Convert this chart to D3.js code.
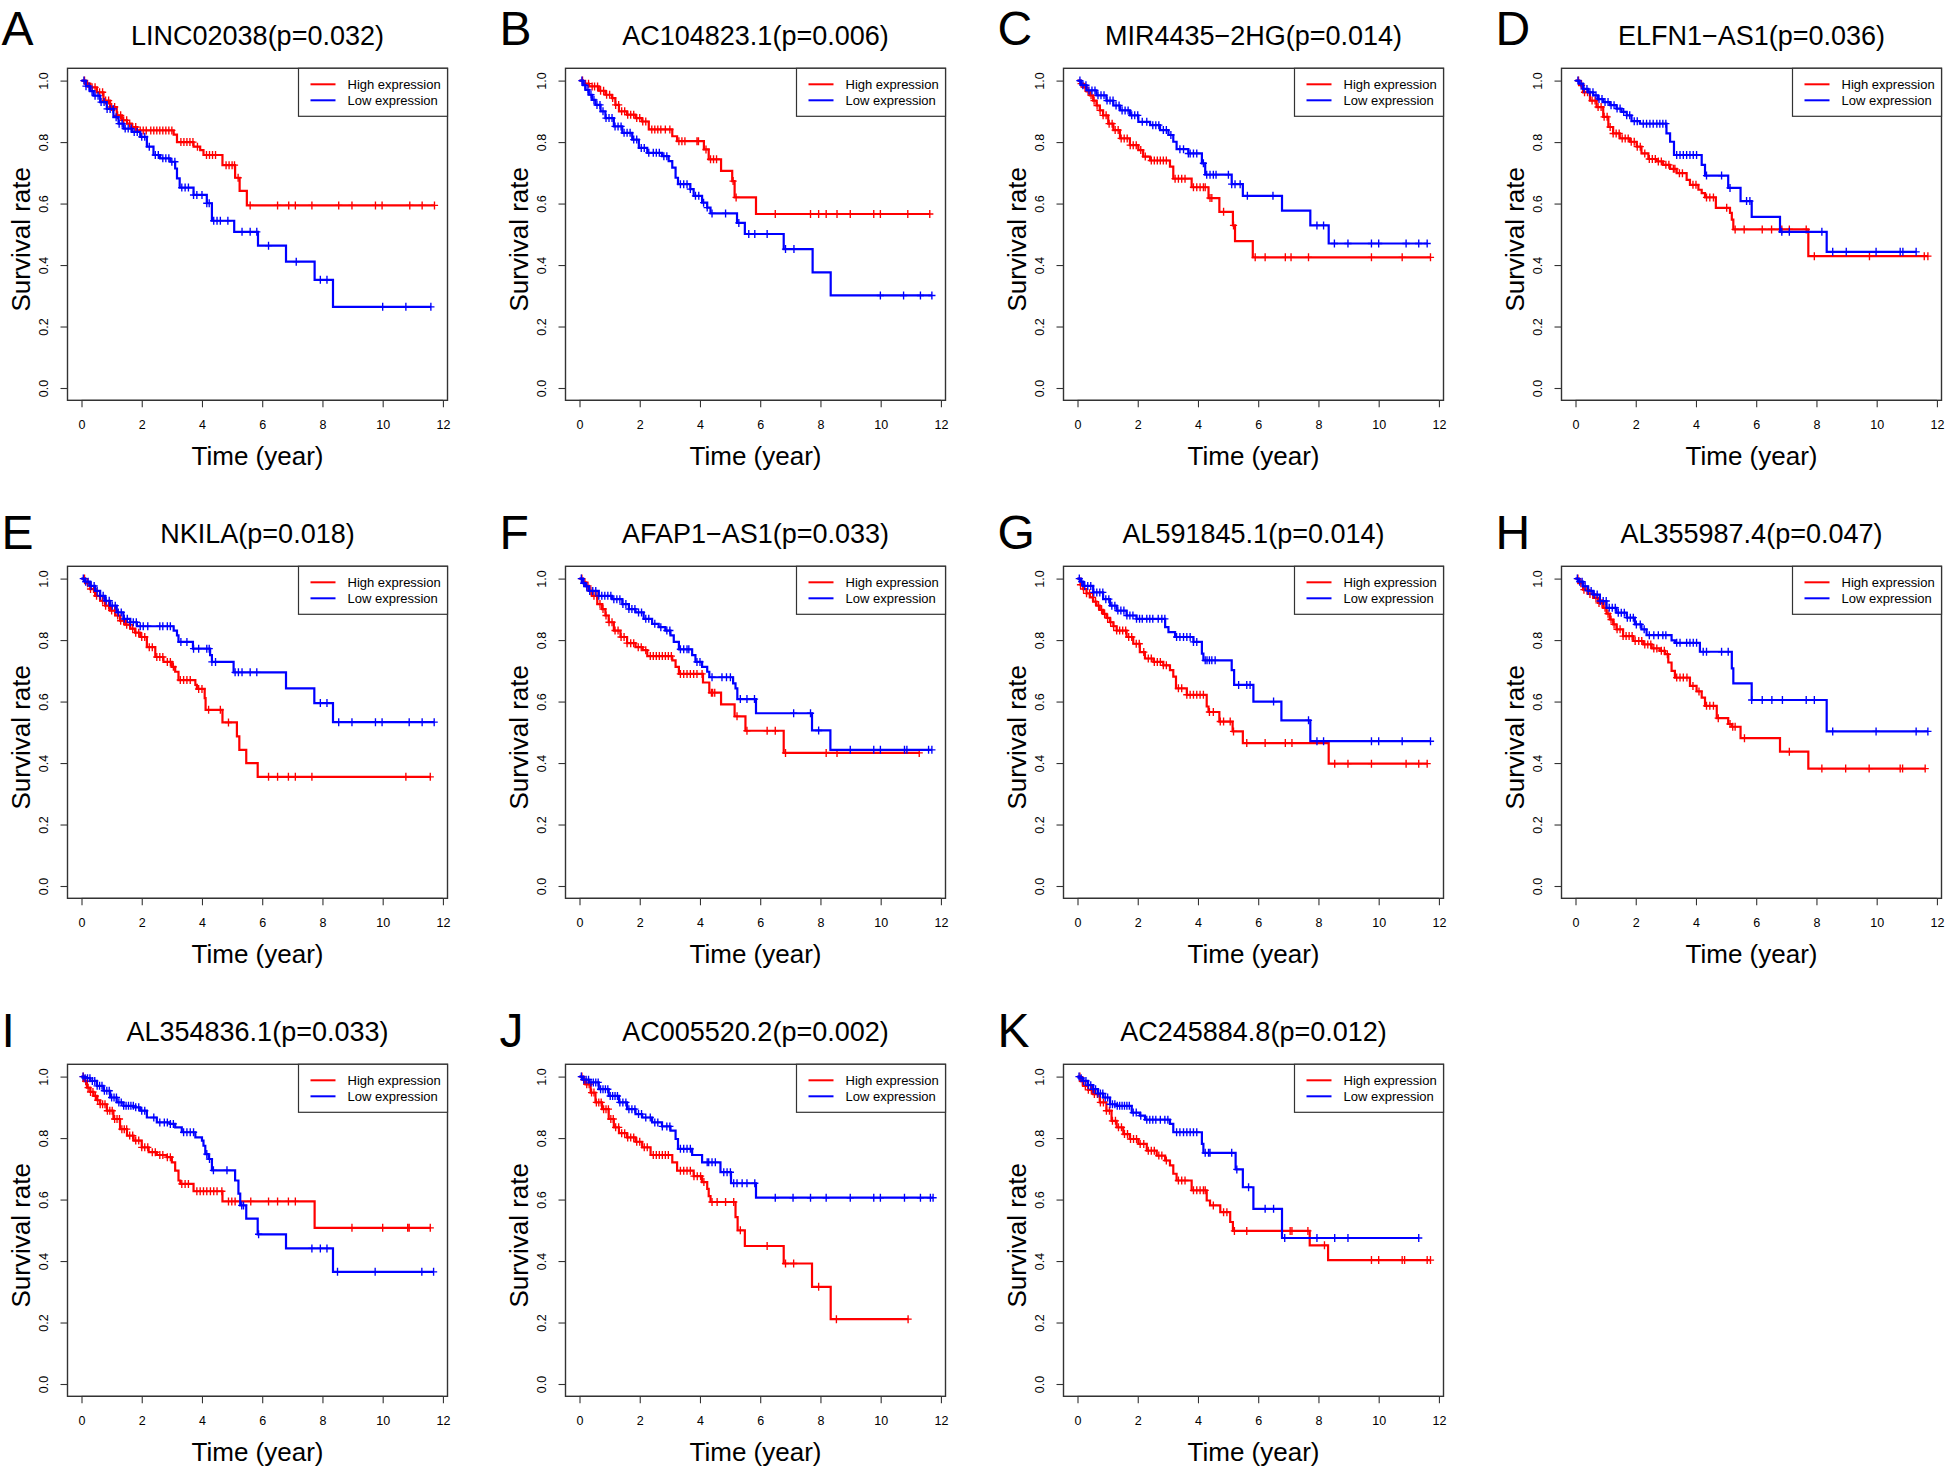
<!DOCTYPE html>
<html><head><meta charset="utf-8">
<script src="https://cdn.jsdelivr.net/npm/d3@7"></script>
<style>
body{margin:0;background:#fff}
svg{display:block}
text{font-family:"Liberation Sans",Arial,Helvetica,sans-serif;fill:#000}
</style>
</head><body>
<svg id="chart" width="1946" height="1466"></svg>
<script>
// ---------------- DATA ----------------
const panelLetters = ["A","B","C","D","E","F","G","H","I","J","K"];
const panelGenes = ["LINC02038","AC104823.1","MIR4435\u22122HG","ELFN1\u2212AS1","NKILA","AFAP1\u2212AS1","AL591845.1","AL355987.4","AL354836.1","AC005520.2","AC245884.8"];
const panelPValues = ["0.032","0.006","0.014","0.036","0.018","0.033","0.014","0.047","0.033","0.002","0.012"];
const xTicks = [0,2,4,6,8,10,12];
const yTicks = [0,0.2,0.4,0.6,0.8,1.0];
const yTickLabels = ["0.0","0.2","0.4","0.6","0.8","1.0"];
const legendLabels = ["High expression","Low expression"];
const seriesColors = ["#FF0000","#0000FF"];
const xAxisTitle = "Time (year)";
const yAxisTitle = "Survival rate";

// steps: [time, survival after drop]; cens: censoring times
const A_high_steps = [[0.12,0.99],[0.29,0.978],[0.51,0.962],[0.73,0.935],[0.95,0.914],[1.17,0.887],[1.34,0.871],[1.51,0.86],[1.67,0.849],[1.84,0.838],[3.06,0.824],[3.17,0.80],[3.72,0.785],[3.94,0.774],[4.05,0.758],[4.68,0.725],[5.1,0.684],[5.25,0.641],[5.49,0.594]];
const A_high_cens = [0.1,0.2,0.35,0.45,0.6,0.7,0.8,0.9,1.0,1.1,1.2,1.3,1.4,1.5,1.6,1.7,1.8,1.95,2.05,2.15,2.3,2.4,2.5,2.6,2.7,2.8,2.9,3.0,3.3,3.4,3.5,3.6,3.7,3.85,4.15,4.25,4.35,4.45,4.8,4.9,5.0,5.08,5.2,5.6,6.51,6.88,7.1,7.65,8.54,8.98,9.76,9.98,10.9,11.31,11.72];
const A_low_steps = [[0.15,0.982],[0.28,0.966],[0.4,0.951],[0.62,0.93],[0.84,0.908],[1.06,0.881],[1.23,0.86],[1.4,0.844],[1.67,0.833],[1.95,0.817],[2.17,0.785],[2.39,0.758],[2.61,0.747],[2.95,0.736],[3.11,0.714],[3.17,0.682],[3.26,0.652],[3.72,0.628],[4.16,0.601],[4.33,0.544],[5.07,0.508],[5.86,0.463],[6.79,0.411],[7.74,0.352],[8.35,0.264]];
const A_low_cens = [0.08,0.15,0.25,0.35,0.45,0.55,0.65,0.75,0.85,0.95,1.05,1.15,1.25,1.35,1.45,1.55,1.65,1.75,1.85,2.0,2.1,2.25,2.45,2.55,2.7,2.8,2.9,3.0,3.1,3.33,3.44,3.55,3.72,3.83,4.0,4.16,4.24,4.39,4.5,4.61,4.86,5.33,5.6,5.82,6.21,7.13,7.93,8.15,10.0,10.77,11.6];

const B_high_steps = [[0.12,0.99],[0.31,0.981],[0.64,0.967],[0.86,0.954],[1.08,0.943],[1.19,0.921],[1.31,0.90],[1.58,0.889],[1.86,0.878],[2.08,0.867],[2.3,0.841],[3.08,0.819],[3.24,0.803],[4.13,0.776],[4.29,0.744],[4.7,0.706],[5.07,0.673],[5.15,0.62],[5.86,0.566]];
const B_high_cens = [0.1,0.2,0.3,0.42,0.5,0.6,0.7,0.8,0.9,1.0,1.1,1.2,1.3,1.4,1.5,1.6,1.7,1.8,1.9,2.0,2.1,2.2,2.4,2.5,2.6,2.7,2.85,3.0,3.3,3.4,3.5,3.9,3.95,4.2,4.35,4.45,4.55,5.1,5.2,6.5,7.67,7.94,8.19,8.55,8.99,9.77,9.99,10.9,11.63];
const B_low_steps = [[0.12,0.985],[0.2,0.97],[0.31,0.954],[0.42,0.937],[0.53,0.921],[0.7,0.9],[0.86,0.878],[1.14,0.851],[1.42,0.83],[1.75,0.808],[1.97,0.781],[2.25,0.765],[2.74,0.754],[2.96,0.738],[3.08,0.717],[3.19,0.684],[3.27,0.663],[3.68,0.647],[3.79,0.625],[4.07,0.603],[4.24,0.587],[4.35,0.568],[5.23,0.537],[5.49,0.501],[6.78,0.452],[7.74,0.376],[8.34,0.301]];
const B_low_cens = [0.08,0.18,0.28,0.38,0.48,0.58,0.68,0.78,0.88,0.98,1.08,1.18,1.28,1.38,1.48,1.58,1.68,1.8,1.9,2.05,2.15,2.3,2.45,2.55,2.65,2.8,2.9,3.35,3.46,3.57,3.68,3.85,3.96,4.12,4.24,4.4,4.85,5.29,5.62,5.82,6.23,6.84,7.12,9.99,10.76,11.32,11.7];

const C_high_steps = [[0.1,0.99],[0.19,0.978],[0.3,0.965],[0.41,0.952],[0.52,0.935],[0.63,0.919],[0.74,0.903],[0.85,0.887],[1.02,0.86],[1.19,0.839],[1.41,0.812],[1.74,0.79],[2.02,0.774],[2.18,0.753],[2.41,0.74],[3.07,0.72],[3.18,0.681],[3.79,0.653],[4.35,0.618],[4.71,0.573],[5.16,0.529],[5.23,0.478],[5.82,0.425]];
const C_high_cens = [0.12,0.25,0.35,0.45,0.55,0.65,0.75,0.85,0.95,1.05,1.15,1.25,1.35,1.45,1.55,1.65,1.75,1.85,1.95,2.1,2.25,2.45,2.55,2.65,2.75,2.85,2.95,3.24,3.35,3.46,3.57,3.85,3.96,4.07,4.18,4.24,4.4,4.46,4.85,5.18,5.9,6.23,6.9,7.09,7.67,9.76,10.78,11.72];
const C_low_steps = [[0.12,0.985],[0.3,0.968],[0.63,0.952],[0.96,0.935],[1.19,0.919],[1.41,0.903],[1.74,0.887],[2.02,0.866],[2.41,0.855],[2.74,0.839],[3.02,0.823],[3.18,0.801],[3.29,0.777],[3.68,0.763],[4.13,0.731],[4.24,0.694],[5.12,0.663],[5.49,0.625],[6.79,0.577],[7.73,0.529],[8.34,0.47]];
const C_low_cens = [0.08,0.18,0.28,0.38,0.48,0.58,0.68,0.78,0.88,0.98,1.08,1.18,1.28,1.38,1.48,1.58,1.68,1.8,1.9,2.0,2.15,2.3,2.5,2.6,2.7,2.85,2.95,3.1,3.4,3.52,3.68,3.74,3.85,3.96,4.18,4.29,4.4,4.51,4.6,5.01,5.12,5.23,5.4,5.64,6.49,7.95,8.17,8.53,8.98,9.76,10.0,10.91,11.33,11.61];

const D_high_steps = [[0.12,0.985],[0.25,0.962],[0.48,0.935],[0.7,0.914],[0.92,0.882],[1.09,0.849],[1.25,0.828],[1.47,0.812],[1.81,0.801],[2.03,0.785],[2.19,0.763],[2.42,0.745],[2.69,0.737],[2.91,0.726],[3.14,0.713],[3.36,0.699],[3.69,0.677],[3.8,0.661],[4.08,0.645],[4.19,0.634],[4.3,0.62],[4.66,0.586],[5.13,0.57],[5.19,0.548],[5.24,0.516],[7.73,0.429]];
const D_high_cens = [0.1,0.2,0.3,0.4,0.55,0.65,0.75,0.85,0.95,1.05,1.15,1.25,1.35,1.45,1.55,1.65,1.75,1.85,1.95,2.05,2.15,2.3,2.45,2.55,2.65,2.75,2.85,3.0,3.1,3.25,3.3,3.45,3.55,3.9,4.0,4.35,4.46,4.58,5.02,5.3,5.6,6.2,6.51,6.85,7.1,7.66,7.93,9.76,11.58,11.7];
const D_low_steps = [[0.12,0.99],[0.25,0.973],[0.42,0.962],[0.59,0.952],[0.75,0.94],[0.92,0.93],[1.15,0.92],[1.36,0.909],[1.53,0.898],[1.7,0.887],[1.86,0.868],[2.14,0.86],[3.02,0.828],[3.14,0.801],[3.27,0.758],[4.19,0.726],[4.3,0.691],[5.07,0.651],[5.48,0.608],[5.85,0.557],[6.79,0.508],[8.34,0.443]];
const D_low_cens = [0.08,0.18,0.28,0.38,0.48,0.58,0.68,0.78,0.88,0.98,1.08,1.18,1.28,1.38,1.48,1.6,1.7,1.8,1.95,2.05,2.25,2.36,2.47,2.58,2.7,2.8,2.9,3.0,3.36,3.47,3.58,3.69,3.8,3.91,4.02,4.35,4.85,5.13,5.68,5.79,6.85,7.1,8.18,8.54,8.99,9.98,10.78,10.87,11.31];

const E_high_steps = [[0.12,0.985],[0.29,0.966],[0.45,0.944],[0.62,0.928],[0.78,0.912],[0.95,0.896],[1.12,0.88],[1.28,0.863],[1.45,0.85],[1.62,0.837],[1.78,0.824],[1.95,0.81],[2.17,0.777],[2.45,0.745],[2.72,0.729],[3.0,0.713],[3.11,0.697],[3.22,0.67],[3.78,0.654],[3.83,0.641],[4.09,0.611],[4.12,0.573],[4.68,0.532],[5.16,0.487],[5.24,0.443],[5.47,0.40],[5.85,0.355]];
const E_high_cens = [0.1,0.2,0.3,0.4,0.5,0.6,0.7,0.8,0.9,1.0,1.1,1.2,1.3,1.4,1.5,1.6,1.7,1.8,1.9,2.0,2.1,2.25,2.35,2.5,2.6,2.7,2.85,2.95,3.05,3.28,3.39,3.5,3.61,3.89,4.0,4.22,4.61,4.88,6.21,6.51,6.87,7.1,7.65,10.77,11.58];
const E_low_steps = [[0.12,0.99],[0.29,0.976],[0.45,0.96],[0.62,0.944],[0.78,0.928],[0.95,0.912],[1.17,0.89],[1.39,0.869],[1.62,0.858],[1.84,0.845],[3.06,0.831],[3.17,0.815],[3.22,0.794],[3.7,0.772],[4.27,0.751],[4.33,0.729],[5.05,0.695],[6.79,0.643],[7.73,0.595],[8.35,0.533]];
const E_low_cens = [0.06,0.14,0.22,0.32,0.42,0.52,0.62,0.72,0.82,0.92,1.02,1.12,1.22,1.32,1.42,1.52,1.62,1.72,1.82,1.95,2.05,2.2,2.6,2.7,2.85,2.95,3.3,3.5,3.72,3.89,4.16,4.24,4.33,4.45,5.1,5.21,5.33,5.6,5.82,7.93,8.15,8.54,8.98,9.76,9.98,10.88,11.31,11.71];

const F_high_steps = [[0.1,0.988],[0.2,0.976],[0.31,0.96],[0.42,0.944],[0.59,0.917],[0.75,0.901],[0.86,0.88],[0.97,0.858],[1.14,0.831],[1.36,0.81],[1.58,0.79],[1.86,0.777],[2.1,0.767],[2.25,0.748],[3.08,0.734],[3.19,0.713],[3.3,0.69],[4.1,0.662],[4.31,0.629],[4.7,0.591],[5.15,0.552],[5.51,0.505],[6.78,0.433]];
const F_high_cens = [0.08,0.18,0.28,0.38,0.48,0.58,0.68,0.78,0.88,0.98,1.08,1.18,1.28,1.38,1.48,1.58,1.7,1.8,1.95,2.05,2.2,2.35,2.45,2.55,2.65,2.75,2.85,2.95,3.05,3.35,3.46,3.57,3.68,3.79,3.9,4.07,4.38,4.42,4.49,5.23,5.56,6.23,6.5,6.84,8.19,8.55,11.28];
const F_low_steps = [[0.12,0.985],[0.2,0.975],[0.31,0.96],[0.64,0.944],[1.08,0.933],[1.42,0.917],[1.64,0.901],[1.86,0.89],[2.13,0.869],[2.41,0.853],[2.63,0.842],[2.85,0.831],[3.02,0.815],[3.13,0.794],[3.3,0.77],[3.74,0.751],[3.85,0.729],[4.07,0.713],[4.24,0.697],[4.31,0.679],[5.1,0.659],[5.18,0.643],[5.24,0.608],[5.86,0.562],[7.72,0.506],[8.33,0.443]];
const F_low_cens = [0.06,0.14,0.24,0.34,0.44,0.54,0.64,0.74,0.84,0.94,1.04,1.14,1.24,1.34,1.44,1.54,1.64,1.74,1.84,1.96,2.06,2.2,2.3,2.5,2.7,2.9,3.0,3.35,3.46,3.57,3.63,3.9,4.0,4.4,4.73,4.88,5.01,5.34,5.56,5.81,7.11,7.67,7.94,8.99,9.77,9.99,10.79,10.87,11.59,11.7];

const G_high_steps = [[0.1,0.98],[0.19,0.966],[0.3,0.952],[0.41,0.939],[0.52,0.925],[0.63,0.912],[0.74,0.898],[0.85,0.885],[0.96,0.872],[1.08,0.858],[1.19,0.845],[1.3,0.831],[1.63,0.81],[1.85,0.788],[2.07,0.761],[2.24,0.74],[2.52,0.729],[2.85,0.718],[3.07,0.702],[3.18,0.681],[3.27,0.643],[3.63,0.622],[4.29,0.584],[4.35,0.566],[4.71,0.535],[5.15,0.503],[5.49,0.465],[8.34,0.398]];
const G_high_cens = [0.1,0.2,0.3,0.4,0.5,0.6,0.7,0.8,0.9,1.0,1.1,1.2,1.3,1.4,1.5,1.6,1.7,1.8,1.95,2.05,2.2,2.35,2.45,2.55,2.65,2.75,2.85,2.95,3.35,3.46,3.63,3.74,3.85,3.96,4.07,4.18,4.38,4.51,4.74,4.85,5.07,5.18,5.62,6.23,6.9,7.12,8.54,8.98,9.76,10.91,11.33,11.61];
const G_low_steps = [[0.1,0.99],[0.19,0.976],[0.52,0.955],[0.85,0.933],[1.08,0.912],[1.3,0.896],[1.63,0.88],[1.96,0.869],[2.91,0.842],[3.02,0.826],[3.24,0.81],[3.85,0.794],[4.13,0.756],[4.18,0.734],[5.12,0.702],[5.2,0.654],[5.84,0.60],[6.77,0.539],[7.73,0.471]];
const G_low_cens = [0.06,0.14,0.24,0.34,0.44,0.54,0.64,0.74,0.84,0.94,1.04,1.14,1.24,1.34,1.44,1.54,1.64,1.74,1.84,1.96,2.06,2.15,2.3,2.4,2.5,2.68,2.8,2.9,3.29,3.4,3.52,3.63,3.74,3.85,3.96,4.24,4.3,4.38,4.46,4.57,5.35,5.62,5.73,6.51,7.67,7.95,8.17,9.76,10.0,10.78,11.72];

const H_high_steps = [[0.1,0.985],[0.25,0.964],[0.42,0.95],[0.59,0.937],[0.75,0.921],[0.92,0.905],[1.03,0.886],[1.14,0.867],[1.25,0.851],[1.36,0.835],[1.58,0.813],[1.92,0.797],[2.25,0.786],[2.53,0.773],[2.8,0.765],[2.97,0.754],[3.08,0.727],[3.19,0.70],[3.3,0.678],[3.8,0.651],[4.02,0.633],[4.19,0.613],[4.3,0.586],[4.69,0.546],[5.07,0.527],[5.19,0.518],[5.48,0.481],[6.79,0.437],[7.73,0.382]];
const H_high_cens = [0.08,0.18,0.28,0.38,0.48,0.58,0.68,0.78,0.88,0.98,1.08,1.18,1.28,1.38,1.48,1.58,1.68,1.78,1.88,1.98,2.1,2.2,2.3,2.4,2.5,2.6,2.7,2.85,2.95,3.05,3.36,3.47,3.58,3.7,3.9,4.1,4.35,4.46,4.58,4.74,5.13,5.22,5.3,5.61,7.1,8.18,8.97,9.75,10.78,10.86,11.61];
const H_low_steps = [[0.1,0.99],[0.25,0.975],[0.42,0.96],[0.59,0.948],[0.81,0.927],[1.03,0.905],[1.36,0.889],[1.7,0.873],[1.97,0.851],[2.19,0.835],[2.36,0.816],[3.19,0.799],[3.3,0.791],[4.13,0.762],[5.19,0.708],[5.24,0.659],[5.85,0.605],[8.34,0.503]];
const H_low_cens = [0.06,0.14,0.22,0.32,0.42,0.52,0.62,0.72,0.82,0.92,1.02,1.12,1.22,1.32,1.42,1.52,1.62,1.72,1.82,1.92,2.02,2.15,2.28,2.45,2.6,2.75,2.9,3.0,3.36,3.47,3.69,3.8,3.91,4.02,4.24,4.35,4.85,5.07,5.85,6.2,6.52,6.87,7.66,7.93,8.54,9.98,11.31,11.7];

const I_high_steps = [[0.08,0.985],[0.18,0.964],[0.29,0.95],[0.4,0.937],[0.51,0.923],[0.62,0.91],[0.84,0.889],[1.06,0.862],[1.28,0.829],[1.51,0.808],[1.73,0.792],[2.0,0.77],[2.23,0.754],[2.5,0.745],[2.83,0.738],[3.0,0.721],[3.11,0.694],[3.22,0.662],[3.28,0.651],[3.72,0.627],[4.68,0.594],[7.74,0.508]];
const I_high_cens = [0.06,0.14,0.22,0.3,0.38,0.46,0.54,0.62,0.7,0.78,0.86,0.94,1.02,1.1,1.18,1.26,1.34,1.42,1.5,1.6,1.7,1.8,1.9,2.0,2.1,2.2,2.35,2.45,2.6,2.7,2.85,2.95,3.33,3.44,3.55,3.83,3.94,4.05,4.16,4.28,4.39,4.5,4.66,4.88,4.99,5.1,5.62,6.21,6.51,6.87,7.1,8.98,10.0,10.83,10.88,11.58];
const I_low_steps = [[0.12,0.995],[0.29,0.986],[0.51,0.97],[0.73,0.954],[0.95,0.932],[1.17,0.916],[1.39,0.905],[1.73,0.90],[1.95,0.889],[2.17,0.867],[2.5,0.851],[2.94,0.846],[3.11,0.835],[3.33,0.819],[3.78,0.802],[4.0,0.792],[4.05,0.775],[4.11,0.748],[4.22,0.732],[4.33,0.695],[5.1,0.662],[5.21,0.619],[5.27,0.581],[5.47,0.538],[5.85,0.487],[6.79,0.441],[8.35,0.365]];
const I_low_cens = [0.05,0.12,0.2,0.28,0.36,0.44,0.52,0.6,0.68,0.76,0.84,0.92,1.0,1.08,1.16,1.24,1.32,1.4,1.48,1.56,1.64,1.72,1.8,1.9,2.0,2.1,2.4,2.6,2.75,2.85,2.95,3.05,3.39,3.5,3.61,3.72,4.16,4.25,4.38,4.83,5.32,5.38,5.88,7.65,7.93,8.15,8.5,9.75,11.3,11.69];

const J_high_steps = [[0.1,0.99],[0.2,0.975],[0.37,0.948],[0.53,0.916],[0.75,0.894],[0.97,0.862],[1.14,0.835],[1.31,0.816],[1.58,0.802],[1.86,0.788],[2.08,0.77],[2.36,0.745],[3.08,0.721],[3.24,0.694],[3.79,0.676],[4.07,0.657],[4.24,0.635],[4.29,0.611],[4.35,0.592],[5.18,0.543],[5.25,0.50],[5.49,0.449],[6.78,0.392],[7.72,0.316],[8.34,0.211]];
const J_high_cens = [0.08,0.16,0.24,0.32,0.4,0.48,0.56,0.64,0.72,0.8,0.88,0.96,1.04,1.12,1.2,1.3,1.4,1.5,1.6,1.7,1.8,1.9,2.0,2.15,2.25,2.45,2.55,2.65,2.75,2.85,2.95,3.35,3.46,3.57,3.68,3.8,3.91,4.02,4.13,4.4,4.57,4.85,5.12,5.34,6.23,6.84,7.11,7.94,8.53,10.91];
const J_low_steps = [[0.12,0.99],[0.31,0.981],[0.64,0.959],[0.97,0.937],[1.31,0.916],[1.58,0.894],[1.86,0.878],[2.08,0.867],[2.41,0.851],[2.74,0.838],[3.02,0.824],[3.19,0.797],[3.27,0.765],[3.74,0.745],[4.07,0.721],[4.68,0.689],[5.03,0.653],[5.86,0.606]];
const J_low_cens = [0.06,0.14,0.22,0.3,0.38,0.46,0.54,0.62,0.7,0.78,0.86,0.94,1.02,1.1,1.18,1.26,1.34,1.44,1.54,1.64,1.74,1.84,1.96,2.06,2.2,2.35,2.5,2.6,2.75,2.9,3.0,3.35,3.46,3.57,3.68,4.24,4.29,4.4,4.51,4.79,4.9,5.01,5.12,5.23,5.4,5.56,5.82,6.5,7.09,7.67,8.19,8.99,9.77,9.99,10.79,11.32,11.65,11.74];

const K_high_steps = [[0.1,0.985],[0.19,0.97],[0.35,0.957],[0.52,0.943],[0.74,0.916],[0.96,0.889],[1.13,0.856],[1.3,0.835],[1.52,0.813],[1.74,0.797],[2.02,0.781],[2.3,0.759],[2.63,0.743],[2.91,0.727],[3.07,0.711],[3.18,0.684],[3.29,0.662],[3.79,0.63],[4.29,0.597],[4.4,0.581],[4.74,0.559],[5.07,0.527],[5.16,0.498],[7.71,0.451],[8.32,0.403]];
const K_high_cens = [0.08,0.16,0.26,0.36,0.46,0.56,0.66,0.76,0.86,0.96,1.06,1.16,1.26,1.36,1.46,1.56,1.66,1.76,1.86,1.96,2.08,2.2,2.35,2.45,2.55,2.7,2.8,2.95,3.35,3.46,3.57,3.85,3.96,4.07,4.18,4.24,4.51,4.85,4.96,5.21,5.62,7.06,7.12,7.65,8.2,9.76,10.0,10.78,10.86,11.61,11.72];
const K_low_steps = [[0.1,0.995],[0.19,0.986],[0.35,0.972],[0.52,0.959],[0.68,0.945],[0.85,0.932],[1.08,0.91],[1.3,0.905],[1.8,0.883],[2.07,0.873],[2.24,0.86],[3.07,0.846],[3.18,0.819],[4.13,0.781],[4.18,0.752],[5.25,0.698],[5.49,0.64],[5.84,0.57],[6.79,0.475]];
const K_low_cens = [0.05,0.12,0.2,0.28,0.36,0.44,0.52,0.6,0.68,0.76,0.84,0.92,1.0,1.08,1.16,1.24,1.32,1.4,1.48,1.56,1.64,1.72,1.85,1.95,2.1,2.3,2.4,2.5,2.6,2.75,2.9,3.0,3.29,3.4,3.52,3.63,3.74,3.85,3.96,4.24,4.35,4.4,5.12,5.29,5.68,6.23,6.51,6.88,7.95,8.54,8.98,11.33];

// table built from the arrays above
const curveData = {
  A:[[A_high_steps,A_high_cens],[A_low_steps,A_low_cens]],
  B:[[B_high_steps,B_high_cens],[B_low_steps,B_low_cens]],
  C:[[C_high_steps,C_high_cens],[C_low_steps,C_low_cens]],
  D:[[D_high_steps,D_high_cens],[D_low_steps,D_low_cens]],
  E:[[E_high_steps,E_high_cens],[E_low_steps,E_low_cens]],
  F:[[F_high_steps,F_high_cens],[F_low_steps,F_low_cens]],
  G:[[G_high_steps,G_high_cens],[G_low_steps,G_low_cens]],
  H:[[H_high_steps,H_high_cens],[H_low_steps,H_low_cens]],
  I:[[I_high_steps,I_high_cens],[I_low_steps,I_low_cens]],
  J:[[J_high_steps,J_high_cens],[J_low_steps,J_low_cens]],
  K:[[K_high_steps,K_high_cens],[K_low_steps,K_low_cens]]
};

// ---------------- DRAW ----------------
const svg = d3.select("#chart");
svg.append("rect").attr("width",1946).attr("height",1466).attr("fill","#fff");

const W = 380, H = 332;
const x = d3.scaleLinear().domain([-0.465, 12.152]).range([0, W]);
const y = d3.scaleLinear().domain([-0.04, 1.04]).range([H, 0]);

function survAt(steps, t){
  let s = 1;
  for (const [st, sv] of steps){ if (st <= t) s = sv; else break; }
  return s;
}

const line = d3.line().x(d=>x(d[0])).y(d=>y(d[1])).curve(d3.curveStepAfter);

panelLetters.forEach((letter, i) => {
  const col = i % 4, row = Math.floor(i / 4);
  const left = 67.5 + 498 * col;
  const top = 68.3 + 498 * row;
  const g = svg.append("g").attr("transform", `translate(${left},${top})`);
  const letterDy = row === 0 ? 0 : 6;

  // panel letter
  g.append("text").attr("x", -66).attr("y", -23 + letterDy)
    .attr("font-size", 48).text(letter);
  // title
  g.append("text").attr("x", W/2).attr("y", -23).attr("text-anchor","middle")
    .attr("font-size", 27).text(`${panelGenes[i]}(p=${panelPValues[i]})`);

  // axes
  const xAxis = d3.axisBottom(x).tickValues(xTicks).tickSize(7).tickSizeOuter(0).tickFormat(d3.format("d"));
  const gx = g.append("g").attr("transform", `translate(0,${H})`).call(xAxis);
  gx.select(".domain").attr("d", `M${x(xTicks[0])},0H${x(xTicks[xTicks.length-1])}`).attr("stroke","#333").attr("stroke-width",1);
  gx.selectAll(".tick line").attr("stroke","#333").attr("stroke-width",1.1);
  gx.selectAll(".tick text").attr("font-size", 12.5).attr("y", 20).attr("dy", "0.71em")
    .attr("font-family", '"Liberation Sans",Arial,sans-serif').attr("fill","#000");

  const yAxis = d3.axisLeft(y).tickValues(yTicks).tickSize(7).tickSizeOuter(0).tickFormat((d,k)=>yTickLabels[k]);
  const gy = g.append("g").call(yAxis);
  gy.select(".domain").attr("d", `M0,${y(yTicks[0])}V${y(yTicks[yTicks.length-1])}`).attr("stroke","#333").attr("stroke-width",1);
  gy.selectAll(".tick line").attr("stroke","#333").attr("stroke-width",1.1);
  gy.selectAll(".tick text").attr("font-size", 12.5)
    .attr("x", 0).attr("dy", null).attr("text-anchor","middle")
    .attr("transform", "translate(-19.5,0) rotate(-90)")
    .attr("font-family", '"Liberation Sans",Arial,sans-serif').attr("fill","#000");

  // axis titles
  g.append("text").attr("x", W/2).attr("y", H + 65).attr("text-anchor","middle")
    .attr("font-size", 26).text(xAxisTitle);
  g.append("text").attr("transform", `translate(-37.5,${171}) rotate(-90)`)
    .attr("text-anchor","middle").attr("font-size", 26).text(yAxisTitle);

  // curves (high first, low on top)
  curveData[letter].forEach(([steps, cens], k) => {
    const end = Math.max(steps[steps.length-1][0], cens[cens.length-1]);
    const pts = [[0,1], ...steps, [end, steps[steps.length-1][1]]];
    g.append("path").attr("d", line(pts)).attr("fill","none")
      .attr("stroke", seriesColors[k]).attr("stroke-width", 2.2);
    g.append("path")
      .attr("d", cens.map(t => {
        const px = x(t), py = y(survAt(steps, t));
        return `M${px},${py-4}v8M${px-3.6},${py}h7.2`;
      }).join(""))
      .attr("fill","none").attr("stroke", seriesColors[k]).attr("stroke-width", 1.35);
  });

  // plot box
  g.append("rect").attr("x",0).attr("y",0).attr("width",W).attr("height",H)
    .attr("fill","none").attr("stroke","#333").attr("stroke-width",1.4);

  // legend
  const lw = 149, lh = 48;
  const lg = g.append("g").attr("transform", `translate(${W - lw},0)`);
  lg.append("rect").attr("width", lw).attr("height", lh).attr("fill","#fff")
    .attr("stroke","#333").attr("stroke-width",1.2);
  legendLabels.forEach((lab, k) => {
    const ly = 16 + 16*k;
    lg.append("line").attr("x1",12).attr("x2",37).attr("y1",ly).attr("y2",ly)
      .attr("stroke", seriesColors[k]).attr("stroke-width",2);
    lg.append("text").attr("x", 49).attr("y", ly + 4.5).attr("font-size", 13).text(lab);
  });
});
</script>
</body></html>
